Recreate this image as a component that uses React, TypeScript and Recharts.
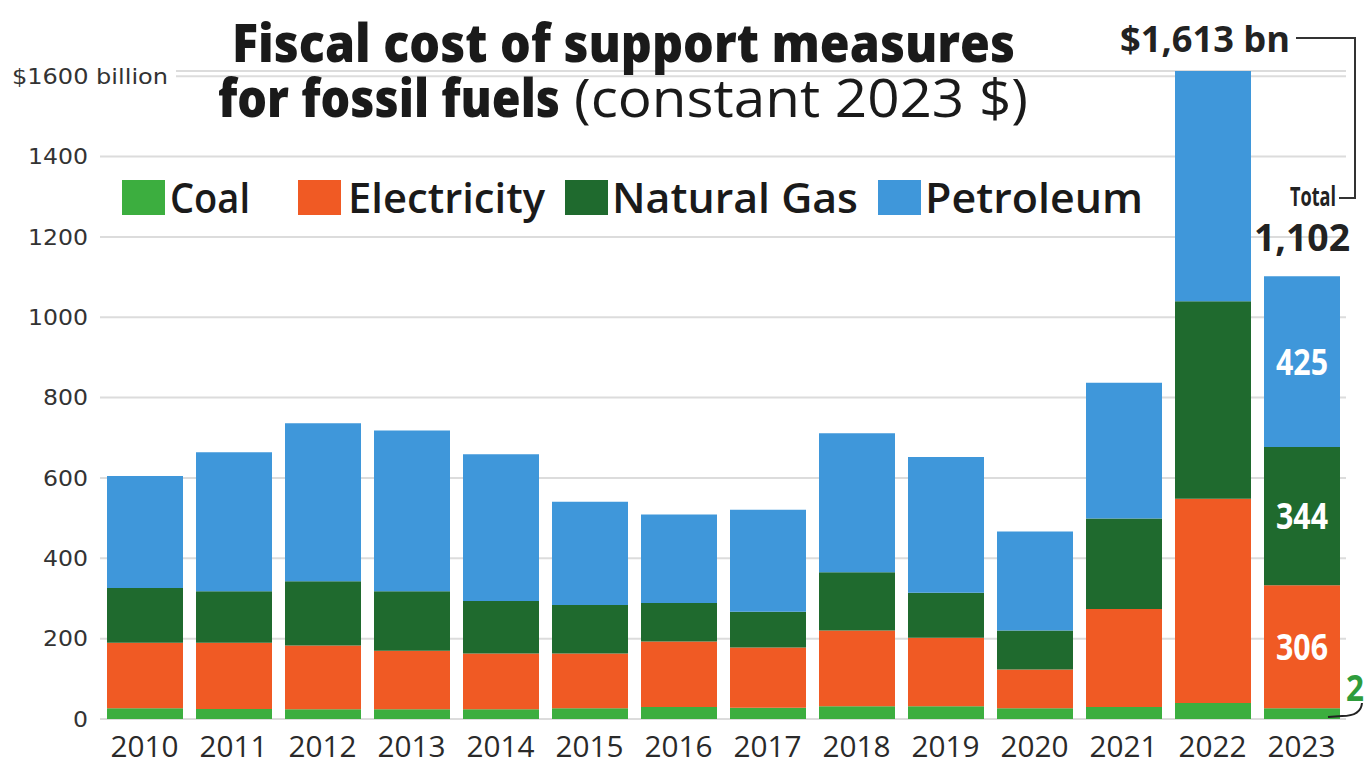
import React from "react";
import { BarChart, Bar, XAxis, YAxis, CartesianGrid, LabelList } from "recharts";

const years = ["2010","2011","2012","2013","2014","2015","2016","2017","2018","2019","2020","2021","2022","2023"];
const coal = [27, 25, 24, 24, 24, 27, 30, 28, 32, 32, 27, 30, 40, 27];
const electricity = [163, 165, 159, 146, 139, 136, 163, 150, 188, 170, 96, 244, 508, 306];
const naturalGas = [136, 128, 160, 148, 131, 121, 96, 89, 145, 112, 97, 225, 492, 344];
const petroleum = [279, 346, 393, 400, 365, 257, 220, 254, 346, 338, 247, 338, 573, 425];
const yTicks = [0, 200, 400, 600, 800, 1000, 1200, 1400, 1600];

const seriesNames = ["Coal", "Electricity", "Natural Gas", "Petroleum"];
const seriesColors = ["#3cae3f", "#f05a24", "#1f6a2e", "#3f97da"];

const data = years.map((y, i) => ({
  year: y,
  coal: coal[i],
  electricity: electricity[i],
  naturalGas: naturalGas[i],
  petroleum: petroleum[i],
}));

const totals = years.map((_, i) => coal[i] + electricity[i] + naturalGas[i] + petroleum[i]);
const fmt = (v: number) => v.toLocaleString("en-US");
const maxTotal = Math.max(...totals);
const lastTotal = totals[totals.length - 1];
const lastIdx = years.length - 1;

const condensed = "'Open Sans', 'Noto Sans', sans-serif";

const XTick = (props: any) => {
  const { x, payload } = props;
  return (
    <text x={x} y={757} textAnchor="middle" fontFamily={condensed} fontSize={29} fill="#2a2a2a" textLength={68} lengthAdjust="spacingAndGlyphs">
      {payload.value}
    </text>
  );
};

const YTick = (props: any) => {
  const { y, payload } = props;
  if (payload.value === 1600) {
    return (
      <g>
        <rect x={8} y={y - 14} width={168} height={28} fill="#fff" />
        <text x={12} y={y} dy="0.35em" textAnchor="start" fontFamily="'DejaVu Sans', sans-serif" fontSize={22} fill="#333" textLength={156} lengthAdjust="spacingAndGlyphs">
          $1600 billion
        </text>
      </g>
    );
  }
  return (
    <text x={88} y={y} dy="0.35em" textAnchor="end" fontFamily="'DejaVu Sans', sans-serif" fontSize={22} fill="#333" textLength={String(payload.value).length * 15} lengthAdjust="spacingAndGlyphs">
      {payload.value}
    </text>
  );
};

const legendLayout = [
  { sx: 122, tx: 170, tw: 80 },
  { sx: 298, tx: 348, tw: 197 },
  { sx: 565, tx: 612, tw: 246 },
  { sx: 878, tx: 925, tw: 218 },
];

const makeCenterLabel = (color: string, w: number) => (props: any) => {
  const { x, y, width, height, value, index } = props;
  if (index !== lastIdx) return null;
  return (
    <text x={x + width / 2} y={y + height / 2} dy="0.36em" textAnchor="middle" fontFamily={condensed} fontWeight={700} fontSize={36} fill={color} textLength={w} lengthAdjust="spacingAndGlyphs">
      {value}
    </text>
  );
};

const CoalLabel = (props: any) => {
  const { x, width, y, value, index } = props;
  if (index !== lastIdx) return null;
  return (
    <text x={x + width + 6} y={y - 4} dy="-0.1em" textAnchor="start" fontFamily={condensed} fontWeight={700} fontSize={36} fill="#2e9c3c" textLength={36} lengthAdjust="spacingAndGlyphs">
      {value}
    </text>
  );
};

export default function App() {
  return (
    <div style={{ position: "absolute", left: 0, top: 0, width: 1364, height: 765, background: "#fff" }}>
      <BarChart
        width={1364}
        height={765}
        data={data}
        margin={{ top: 71, right: 18, left: 0, bottom: 0 }}
        barSize={76}
      >
        <CartesianGrid vertical={false} stroke="#dcdcdc" strokeWidth={2} />
        <XAxis dataKey="year" axisLine={false} tickLine={false} height={46} tick={<XTick />} interval={0} />
        <YAxis domain={[0, 1600]} ticks={yTicks} axisLine={false} tickLine={false} width={100} tick={<YTick />} interval={0} />
        <Bar dataKey="coal" name="Coal" stackId="a" fill={seriesColors[0]} isAnimationActive={false}>
          <LabelList dataKey="coal" content={<CoalLabel />} />
        </Bar>
        <Bar dataKey="electricity" name="Electricity" stackId="a" fill={seriesColors[1]} isAnimationActive={false}>
          <LabelList dataKey="electricity" content={makeCenterLabel("#ffffff", 52)} />
        </Bar>
        <Bar dataKey="naturalGas" name="Natural Gas" stackId="a" fill={seriesColors[2]} isAnimationActive={false}>
          <LabelList dataKey="naturalGas" content={makeCenterLabel("#ffffff", 52)} />
        </Bar>
        <Bar dataKey="petroleum" name="Petroleum" stackId="a" fill={seriesColors[3]} isAnimationActive={false}>
          <LabelList dataKey="petroleum" content={makeCenterLabel("#ffffff", 52)} />
        </Bar>
      </BarChart>
      <svg width={1364} height={765} style={{ position: "absolute", left: 0, top: 0, pointerEvents: "none" }}>
        <text x={232} y={62} fontFamily={condensed} fontWeight={800} fontSize={53} fill="#1a1a1a" textLength={783} lengthAdjust="spacingAndGlyphs">
          Fiscal cost of support measures
        </text>
        <text x={218} y={117} fontFamily={condensed} fontWeight={800} fontSize={53} fill="#1a1a1a" textLength={342} lengthAdjust="spacingAndGlyphs">
          for fossil fuels
        </text>
        <text x={574} y={117} fontFamily={condensed} fontWeight={400} fontSize={53} fill="#1a1a1a" textLength={454} lengthAdjust="spacingAndGlyphs">
          (constant 2023 $)
        </text>
        {seriesNames.map((name, i) => (
          <g key={name}>
            <rect x={legendLayout[i].sx} y={180} width={43} height={35} fill={seriesColors[i]} />
            <text x={legendLayout[i].tx} y={213} fontFamily={condensed} fontWeight={600} fontSize={41} fill="#1a1a1a" textLength={legendLayout[i].tw} lengthAdjust="spacingAndGlyphs">
              {name}
            </text>
          </g>
        ))}
        <text x={1120} y={52} fontFamily={condensed} fontWeight={700} fontSize={36} fill="#222" textLength={170} lengthAdjust="spacingAndGlyphs">
          {`$${fmt(maxTotal)} bn`}
        </text>
        <path d="M1296,38 L1355,38 L1355,198 L1339,198" fill="none" stroke="#333" strokeWidth={2} />
        <text x={1290} y={206} fontFamily={condensed} fontWeight={700} fontSize={26} fill="#222" textLength={46} lengthAdjust="spacingAndGlyphs">
          Total
        </text>
        <text x={1254} y={251} fontFamily={condensed} fontWeight={700} fontSize={38} fill="#222" textLength={96} lengthAdjust="spacingAndGlyphs">
          {fmt(lastTotal)}
        </text>
        <path d="M1362,703 Q1361,716 1342,716 L1328,717" fill="none" stroke="#222" strokeWidth={2} />
      </svg>
    </div>
  );
}
